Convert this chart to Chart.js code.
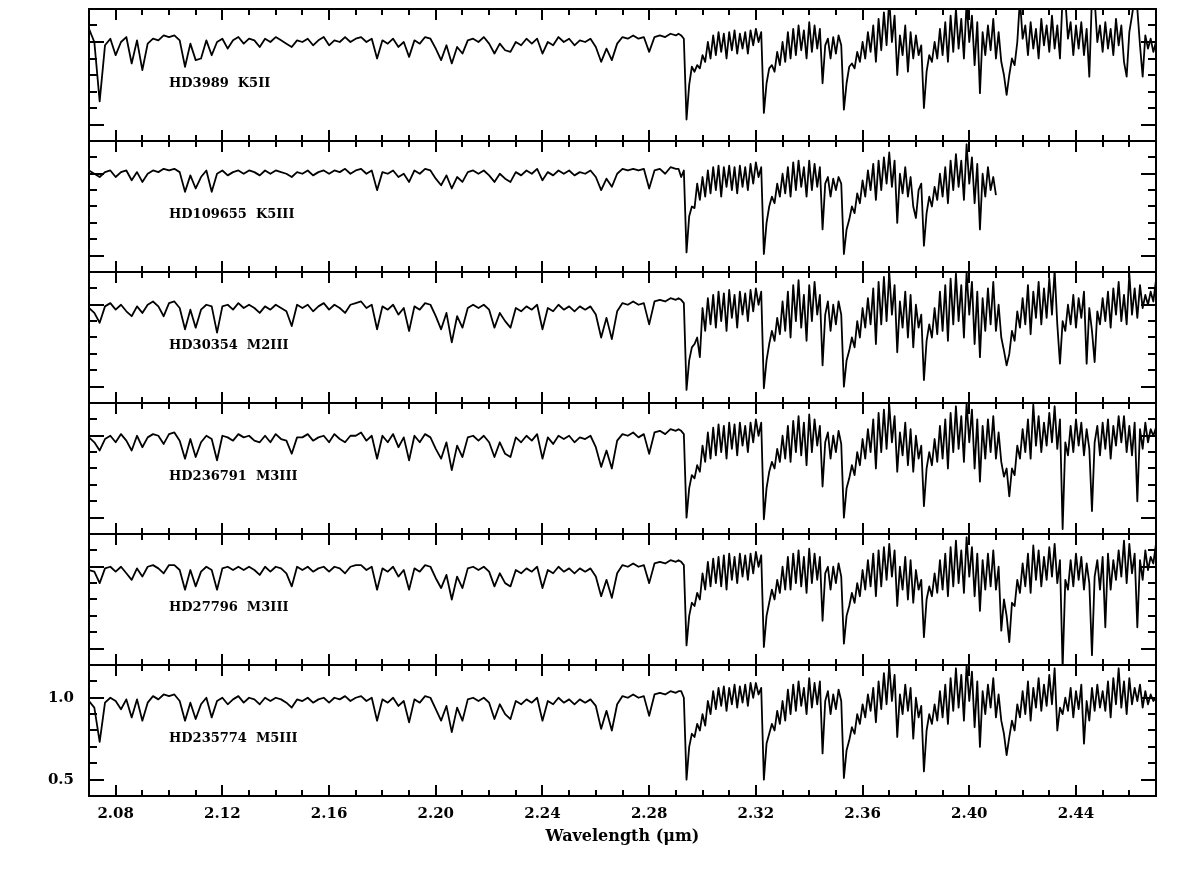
<!DOCTYPE html>
<html><head><meta charset="utf-8">
<script src="https://cdn.jsdelivr.net/npm/chart.js@4.4.1/dist/chart.umd.min.js"></script>
<style>
html,body{margin:0;padding:0;background:#fff;}
#wrap{position:relative;width:1179px;height:874px;overflow:hidden;background:#fff;}
#wrap canvas{position:absolute;left:0;}
</style>
</head><body>
<div id="wrap"></div>
<script>
// ---------------- DATA ----------------
const wavelength = [
 2.070,2.072,2.074,2.076,2.078,2.080,2.082,2.084,2.086,2.088,
 2.090,2.092,2.094,2.096,2.098,2.100,2.102,2.104,2.106,2.108,
 2.110,2.112,2.114,2.116,2.118,2.120,2.122,2.124,2.126,2.128,
 2.130,2.132,2.134,2.136,2.138,2.140,2.142,2.144,2.146,2.148,
 2.150,2.152,2.154,2.156,2.158,2.160,2.162,2.164,2.166,2.168,
 2.170,2.172,2.174,2.176,2.178,2.180,2.182,2.184,2.186,2.188,
 2.190,2.192,2.194,2.196,2.198,2.200,2.202,2.204,2.206,2.208,
 2.210,2.212,2.214,2.216,2.218,2.220,2.222,2.224,2.226,2.228,
 2.230,2.232,2.234,2.236,2.238,2.240,2.242,2.244,2.246,2.248,
 2.250,2.252,2.254,2.256,2.258,2.260,2.262,2.264,2.266,2.268,
 2.270,2.272,2.274,2.276,2.278,2.280,2.282,2.284,2.286,2.288,
 2.290,
 2.291,2.292,2.293,2.294,2.295,2.296,2.297,2.298,2.299,2.300,
 2.301,2.302,2.303,2.304,2.305,2.306,2.307,2.308,2.309,2.310,
 2.311,2.312,2.313,2.314,2.315,2.316,2.317,2.318,2.319,2.320,
 2.321,2.322,2.323,2.324,2.325,2.326,2.327,2.328,2.329,2.330,
 2.331,2.332,2.333,2.334,2.335,2.336,2.337,2.338,2.339,2.340,
 2.341,2.342,2.343,2.344,2.345,2.346,2.347,2.348,2.349,2.350,
 2.351,2.352,2.353,2.354,2.355,2.356,2.357,2.358,2.359,2.360,
 2.361,2.362,2.363,2.364,2.365,2.366,2.367,2.368,2.369,2.370,
 2.371,2.372,2.373,2.374,2.375,2.376,2.377,2.378,2.379,2.380,
 2.381,2.382,2.383,2.384,2.385,2.386,2.387,2.388,2.389,2.390,
 2.391,2.392,2.393,2.394,2.395,2.396,2.397,2.398,2.399,2.400,
 2.401,2.402,2.403,2.404,2.405,2.406,2.407,2.408,2.409,2.410,
 2.411,2.412,2.413,2.414,2.415,2.416,2.417,2.418,2.419,2.420,
 2.421,2.422,2.423,2.424,2.425,2.426,2.427,2.428,2.429,2.430,
 2.431,2.432,2.433,2.434,2.435,2.436,2.437,2.438,2.439,2.440,
 2.441,2.442,2.443,2.444,2.445,2.446,2.447,2.448,2.449,2.450,
 2.451,2.452,2.453,2.454,2.455,2.456,2.457,2.458,2.459,2.460,
 2.461,2.462,2.463,2.464,2.465,2.466,2.467,2.468,2.469,2.470
];

const starNames = ['HD3989  K5II','HD109655  K5III','HD30354  M2III','HD236791  M3III','HD27796  M3III','HD235774  M5III'];

const fluxHD3989 = [
 1.08,1.00,0.64,0.98,1.02,0.92,1.00,1.03,0.87,1.01,
 0.83,0.99,1.02,1.01,1.04,1.03,1.04,1.01,0.85,0.99,
 0.89,0.90,1.01,0.92,1.00,1.02,0.96,1.01,1.03,0.99,
 1.02,1.01,0.97,1.02,1.00,1.03,1.01,0.99,0.97,1.01,
 1.00,1.02,0.98,1.01,1.03,0.98,1.01,1.00,1.03,1.00,
 1.02,1.03,1.00,1.02,0.90,1.01,0.99,1.02,0.97,1.00,
 0.91,1.01,0.99,1.03,1.02,0.96,0.89,0.98,0.87,0.97,
 0.93,1.01,1.02,1.00,1.03,0.99,0.93,0.99,0.95,0.94,
 1.00,0.98,1.02,0.99,1.02,0.93,1.00,0.98,1.03,1.00,
 1.02,0.98,1.01,1.00,1.02,0.97,0.88,0.96,0.89,0.99,
 1.03,1.02,1.04,1.02,1.03,0.94,1.03,1.04,1.03,1.05,
 1.04,
 1.05,1.04,1.02,0.53,0.74,0.85,0.82,0.86,0.84,0.92,
 0.88,1.00,0.90,1.04,0.92,1.06,0.94,1.05,0.90,1.06,
 0.95,1.07,0.93,1.05,0.96,1.06,0.93,1.07,0.98,1.08,
 1.00,1.06,0.57,0.75,0.84,0.86,0.82,0.94,0.86,1.00,
 0.88,1.06,0.90,1.08,0.92,1.10,0.95,1.07,0.90,1.12,
 0.94,1.10,0.96,1.08,0.75,0.98,1.02,0.90,1.03,0.93,
 1.04,0.98,0.59,0.75,0.85,0.87,0.84,0.94,0.88,1.00,
 0.90,1.06,0.94,1.10,0.88,1.14,0.95,1.18,0.98,1.26,
 1.00,1.16,0.80,1.04,0.92,1.10,0.82,1.06,0.90,1.04,
 0.92,0.98,0.60,0.82,0.92,0.88,1.00,0.90,1.08,0.92,
 1.12,0.88,1.16,0.94,1.20,0.96,1.14,0.90,1.24,1.00,
 1.16,0.86,1.12,0.69,1.06,0.92,1.10,0.95,1.14,0.90,
 1.06,0.88,0.80,0.68,0.80,0.90,0.86,1.00,1.26,1.02,
 1.10,0.92,1.12,0.96,1.08,0.90,1.14,0.98,1.10,0.94,
 1.16,0.96,1.10,0.90,1.28,1.26,1.02,1.12,0.92,1.10,
 0.96,1.12,0.92,1.08,0.79,1.28,1.26,1.00,1.10,0.94,
 1.12,0.96,1.08,0.92,1.14,0.98,1.10,0.88,0.79,1.06,
 1.16,1.27,1.20,0.98,0.79,1.04,0.96,1.02,0.94,1.00
];

const fluxHD109655 = [
 1.02,1.00,0.98,1.01,1.02,0.98,1.01,1.02,0.96,1.01,
 0.95,1.00,1.02,1.01,1.03,1.02,1.03,1.01,0.89,0.99,
 0.91,0.98,1.02,0.89,1.00,1.02,0.99,1.01,1.02,1.00,
 1.02,1.01,0.99,1.02,1.00,1.02,1.01,1.00,0.98,1.01,
 1.00,1.02,0.99,1.01,1.02,1.00,1.02,1.01,1.03,1.00,
 1.02,1.03,1.00,1.02,0.90,1.01,1.00,1.02,0.98,1.00,
 0.95,1.02,1.00,1.03,1.02,0.97,0.93,0.99,0.91,0.98,
 0.95,1.01,1.02,1.00,1.02,0.99,0.95,1.00,0.97,0.95,
 1.01,0.99,1.02,1.00,1.03,0.96,1.01,0.99,1.02,1.00,
 1.02,0.99,1.01,1.00,1.02,0.98,0.90,0.97,0.92,1.00,
 1.03,1.02,1.03,1.02,1.03,0.91,1.02,1.03,1.00,1.04,
 1.03,
 1.03,0.98,1.02,0.52,0.74,0.80,0.79,0.94,0.84,0.98,
 0.86,1.02,0.88,1.04,0.90,1.05,0.86,1.04,0.92,1.05,
 0.90,1.04,0.88,1.05,0.92,1.04,0.90,1.06,0.94,1.07,
 0.98,1.04,0.51,0.70,0.80,0.86,0.82,0.94,0.86,1.00,
 0.88,1.04,0.86,1.07,0.90,1.08,0.92,1.04,0.86,1.08,
 0.90,1.06,0.92,1.04,0.66,0.94,0.98,0.86,0.97,0.90,
 0.98,0.94,0.51,0.66,0.72,0.80,0.76,0.88,0.82,0.96,
 0.86,1.02,0.90,1.06,0.84,1.08,0.90,1.10,0.94,1.13,
 0.92,1.08,0.70,1.00,0.88,1.04,0.86,0.98,0.80,0.73,
 0.90,0.94,0.56,0.76,0.86,0.80,0.92,0.84,1.00,0.86,
 1.04,0.82,1.08,0.90,1.12,0.92,1.08,0.84,1.18,0.94,
 1.10,0.82,1.06,0.66,1.00,0.86,1.04,0.90,0.98,0.87
];

const fluxHD30354 = [
 0.98,0.95,0.89,0.99,1.01,0.97,1.00,0.96,0.93,0.99,
 0.95,1.00,1.02,0.99,0.93,1.01,1.02,0.98,0.85,0.97,
 0.86,0.97,1.00,0.99,0.83,0.99,1.00,0.97,1.01,0.98,
 1.00,0.98,0.95,0.99,0.97,1.00,0.98,0.96,0.87,1.00,
 0.98,1.00,0.96,0.99,1.01,0.97,1.00,0.98,0.95,1.00,
 1.01,1.02,0.98,1.00,0.85,0.99,0.97,1.00,0.94,0.98,
 0.84,0.99,0.97,1.01,1.00,0.93,0.85,0.95,0.77,0.93,
 0.86,0.98,1.00,0.98,1.00,0.97,0.86,0.95,0.90,0.86,
 0.98,0.96,0.99,0.97,1.00,0.85,0.98,0.96,1.00,0.97,
 0.99,0.96,0.99,0.97,0.99,0.94,0.80,0.92,0.79,0.96,
 1.01,1.00,1.02,1.00,1.01,0.88,1.02,1.03,1.02,1.04,
 1.03,
 1.04,1.03,1.01,0.48,0.66,0.74,0.76,0.80,0.68,0.98,
 0.84,1.04,0.88,1.06,0.86,1.08,0.90,1.07,0.84,1.09,
 0.92,1.06,0.86,1.08,0.94,1.07,0.90,1.09,0.96,1.10,
 1.00,1.08,0.49,0.66,0.76,0.84,0.78,0.92,0.82,1.02,
 0.84,1.08,0.80,1.12,0.90,1.15,0.86,1.06,0.78,1.12,
 0.90,1.14,0.94,1.06,0.63,0.94,1.02,0.84,1.00,0.88,
 1.02,0.94,0.50,0.66,0.72,0.80,0.74,0.90,0.80,0.98,
 0.86,1.04,0.88,1.10,0.76,1.14,0.88,1.17,0.90,1.20,
 0.94,1.12,0.71,1.02,0.86,1.08,0.80,1.06,0.74,1.00,
 0.86,0.94,0.54,0.78,0.88,0.80,0.98,0.82,1.08,0.84,
 1.12,0.78,1.16,0.88,1.19,0.90,1.12,0.80,1.20,0.94,
 1.14,0.76,1.08,0.68,1.04,0.84,1.10,0.88,1.14,0.84,
 1.00,0.80,0.72,0.63,0.70,0.84,0.78,0.96,0.86,1.04,
 0.88,1.12,0.82,1.08,0.92,1.14,0.88,1.10,0.92,1.16,
 0.94,1.21,0.88,0.64,0.90,0.84,1.00,0.88,1.06,0.86,
 1.04,0.92,1.08,0.64,0.98,0.84,0.65,0.96,0.88,1.04,
 0.90,1.08,0.86,1.10,0.94,1.14,0.90,1.06,0.88,1.19,
 0.94,1.10,0.92,1.12,0.98,1.06,1.00,1.08,1.02,1.15
];

const fluxHD236791 = [
 0.99,0.96,0.91,0.98,1.00,0.96,1.01,0.97,0.91,1.00,
 0.93,0.99,1.01,1.00,0.95,1.01,1.02,0.97,0.86,0.98,
 0.87,0.96,1.00,0.98,0.85,1.00,0.99,0.97,1.01,0.99,
 1.00,0.97,0.96,1.00,0.96,1.01,0.98,0.97,0.89,0.99,
 0.99,1.01,0.97,0.99,1.00,0.96,1.01,0.98,0.96,1.00,
 1.00,1.02,0.97,1.00,0.86,1.00,0.96,1.01,0.93,0.99,
 0.85,1.00,0.96,1.01,0.99,0.92,0.86,0.96,0.79,0.94,
 0.87,0.99,1.00,0.97,1.00,0.96,0.87,0.96,0.89,0.87,
 0.99,0.96,1.00,0.97,1.01,0.86,0.99,0.95,1.00,0.98,
 1.00,0.96,0.99,0.98,1.00,0.93,0.81,0.91,0.80,0.97,
 1.01,1.00,1.02,0.99,1.01,0.89,1.02,1.03,1.01,1.04,
 1.03,
 1.04,1.03,1.01,0.50,0.68,0.76,0.74,0.82,0.78,0.94,
 0.84,1.02,0.86,1.05,0.88,1.07,0.90,1.06,0.86,1.08,
 0.92,1.07,0.88,1.08,0.94,1.06,0.90,1.08,0.96,1.10,
 1.00,1.08,0.49,0.68,0.78,0.84,0.80,0.92,0.84,1.00,
 0.86,1.06,0.84,1.09,0.90,1.12,0.88,1.08,0.82,1.13,
 0.90,1.10,0.94,1.06,0.69,0.96,1.02,0.86,1.00,0.90,
 1.03,0.95,0.50,0.68,0.74,0.82,0.76,0.90,0.82,0.98,
 0.86,1.04,0.90,1.10,0.80,1.14,0.90,1.16,0.92,1.19,
 0.96,1.12,0.78,1.02,0.88,1.08,0.82,1.04,0.78,1.00,
 0.86,0.94,0.57,0.80,0.90,0.82,0.98,0.84,1.06,0.86,
 1.10,0.80,1.14,0.90,1.18,0.92,1.12,0.84,1.20,0.96,
 1.16,0.80,1.10,0.72,1.06,0.86,1.10,0.90,1.12,0.86,
 1.02,0.84,0.75,0.80,0.63,0.80,0.76,0.94,0.86,1.04,
 0.90,1.10,0.86,1.19,0.94,1.12,0.90,1.08,0.94,1.14,
 0.96,1.18,0.92,1.10,0.43,0.96,0.88,1.06,0.90,1.10,
 0.94,1.08,0.88,1.04,0.92,0.54,0.96,1.06,0.88,1.08,
 0.92,1.10,0.86,1.06,0.94,1.12,0.96,1.12,0.90,1.06,
 0.88,1.08,0.60,1.04,0.92,1.08,0.96,1.04,1.00,1.05
];

const fluxHD27796 = [
 0.98,0.97,0.90,0.99,1.00,0.97,1.00,0.96,0.92,0.99,
 0.94,1.00,1.01,0.99,0.96,1.01,1.01,0.98,0.86,0.98,
 0.88,0.97,1.00,0.98,0.86,0.99,1.00,0.98,1.00,0.98,
 1.00,0.98,0.95,1.00,0.97,1.00,0.99,0.96,0.88,1.00,
 0.98,1.00,0.97,0.99,1.00,0.97,1.00,0.99,0.96,1.00,
 1.01,1.01,0.98,1.00,0.86,0.99,0.97,1.00,0.94,0.98,
 0.86,0.99,0.97,1.01,1.00,0.93,0.87,0.95,0.80,0.94,
 0.87,0.99,1.00,0.98,1.00,0.97,0.88,0.96,0.90,0.88,
 0.98,0.96,0.99,0.97,1.00,0.87,0.98,0.96,1.00,0.97,
 0.99,0.96,0.99,0.97,0.99,0.94,0.82,0.92,0.81,0.96,
 1.01,1.00,1.02,1.00,1.01,0.90,1.02,1.03,1.02,1.04,
 1.03,
 1.04,1.03,1.01,0.52,0.70,0.78,0.76,0.84,0.80,0.96,
 0.86,1.03,0.88,1.05,0.90,1.06,0.88,1.07,0.86,1.08,
 0.92,1.06,0.90,1.08,0.94,1.07,0.92,1.08,0.96,1.09,
 1.00,1.07,0.51,0.70,0.78,0.86,0.80,0.92,0.84,1.00,
 0.86,1.06,0.86,1.08,0.90,1.10,0.88,1.06,0.84,1.11,
 0.90,1.08,0.92,1.06,0.67,0.96,1.00,0.86,1.00,0.90,
 1.02,0.94,0.53,0.70,0.76,0.84,0.78,0.90,0.82,0.98,
 0.86,1.04,0.88,1.08,0.82,1.10,0.88,1.12,0.92,1.14,
 0.94,1.10,0.76,1.00,0.86,1.06,0.80,1.04,0.78,0.98,
 0.86,0.92,0.57,0.80,0.88,0.82,0.96,0.84,1.04,0.86,
 1.08,0.82,1.12,0.88,1.16,0.90,1.10,0.84,1.18,0.94,
 1.12,0.82,1.08,0.73,1.04,0.86,1.08,0.88,1.10,0.86,
 1.00,0.61,0.80,0.70,0.54,0.78,0.76,0.92,0.84,1.02,
 0.88,1.08,0.84,1.13,0.92,1.10,0.88,1.06,0.92,1.12,
 0.94,1.14,0.90,1.04,0.38,0.92,0.86,1.04,0.88,1.08,
 0.92,1.06,0.86,1.02,0.90,0.46,0.94,1.04,0.86,1.06,
 0.63,1.08,0.86,1.04,0.92,1.10,0.94,1.16,0.90,1.14,
 0.96,1.08,0.63,1.04,0.92,1.10,0.98,1.06,1.02,1.14
];

const fluxHD235774 = [
 0.98,0.94,0.73,0.97,1.00,0.98,0.93,0.99,0.88,0.99,
 0.86,0.97,1.01,0.99,1.02,1.01,1.02,0.98,0.86,0.97,
 0.87,0.96,1.00,0.88,0.98,1.00,0.96,0.99,1.01,0.97,
 1.00,0.99,0.96,1.00,0.98,1.00,0.99,0.97,0.94,0.99,
 0.98,1.00,0.97,0.99,1.00,0.97,1.00,0.99,1.01,0.98,
 1.00,1.01,0.98,1.00,0.86,0.99,0.97,1.00,0.95,0.98,
 0.85,0.99,0.97,1.01,1.00,0.93,0.86,0.95,0.79,0.94,
 0.86,0.99,1.00,0.98,1.00,0.97,0.87,0.96,0.90,0.87,
 0.98,0.96,0.99,0.97,1.00,0.86,0.98,0.96,1.00,0.97,
 0.99,0.96,0.99,0.97,0.99,0.95,0.81,0.92,0.80,0.96,
 1.01,1.00,1.02,1.00,1.01,0.89,1.02,1.03,1.02,1.04,
 1.03,
 1.04,1.04,1.00,0.50,0.70,0.78,0.76,0.84,0.80,0.90,
 0.83,0.98,0.90,1.04,0.93,1.06,0.95,1.07,0.92,1.06,
 0.96,1.08,0.94,1.07,0.97,1.08,0.95,1.09,1.00,1.09,
 1.02,1.06,0.50,0.72,0.78,0.84,0.80,0.92,0.84,0.98,
 0.86,1.05,0.90,1.08,0.92,1.10,0.95,1.06,0.90,1.12,
 0.94,1.09,0.96,1.10,0.66,0.98,1.04,0.90,1.02,0.93,
 1.05,0.98,0.51,0.68,0.74,0.82,0.78,0.90,0.84,0.96,
 0.88,1.02,0.92,1.06,0.85,1.10,0.93,1.15,0.96,1.20,
 0.98,1.14,0.76,1.02,0.90,1.08,0.92,1.06,0.75,1.00,
 0.88,0.95,0.55,0.80,0.90,0.84,0.96,0.86,1.04,0.88,
 1.08,0.84,1.12,0.92,1.18,0.94,1.14,0.86,1.20,0.98,
 1.16,0.82,1.10,0.70,1.04,0.90,1.08,0.94,1.12,0.88,
 1.02,0.86,0.78,0.65,0.76,0.86,0.80,0.96,0.88,1.04,
 0.90,1.10,0.86,1.06,0.94,1.12,0.92,1.08,0.95,1.14,
 0.96,1.18,0.80,0.94,0.90,1.00,0.92,1.06,0.88,1.04,
 0.93,1.08,0.72,0.98,0.86,1.06,0.92,1.08,0.94,1.04,
 0.92,1.10,0.88,1.12,0.96,1.18,0.94,1.10,0.90,1.12,
 0.96,1.06,0.98,1.08,0.94,1.04,0.96,1.02,0.98,1.00
];

const seriesFlux = [fluxHD3989, fluxHD109655, fluxHD30354, fluxHD236791, fluxHD27796, fluxHD235774];

// axis ticks
const xMajorTicks = [2.08,2.12,2.16,2.20,2.24,2.28,2.32,2.36,2.40,2.44];
const xMinorTicks = [2.08,2.09,2.10,2.11,2.12,2.13,2.14,2.15,2.16,2.17,2.18,2.19,2.20,2.21,2.22,2.23,2.24,2.25,2.26,2.27,2.28,2.29,2.30,2.31,2.32,2.33,2.34,2.35,2.36,2.37,2.38,2.39,2.40,2.41,2.42,2.43,2.44,2.45,2.46];
const yMajorTicks = [0.5,1.0];
const yMinorTicks = [0.6,0.7,0.8,0.9,1.1];
const xRange = [2.07, 2.47];
const yRange = [0.4, 1.2];
const xTitle = 'Wavelength (\u03bcm)';

// ---------------- LAYOUT ----------------
const PAGE_W = 1179, PAGE_H = 874;
const panelTops = [9, 141, 272, 403, 534, 665];
const panelBottom = 796;
const PLOT_LEFT = 89, PLOT_RIGHT = 1156, EXTRA = 12;
const TICK_FONT = {family: 'DejaVu Serif', size: 15, weight: 'bold'};

const framePlugin = {
  id: 'frame',
  afterDatasetsDraw(chart, args, opts) {
    const {ctx, chartArea: a, scales: {x, y}} = chart;
    ctx.save();
    ctx.strokeStyle = '#000';
    ctx.lineWidth = 2;
    ctx.lineCap = 'butt';
    ctx.beginPath();
    xMinorTicks.forEach(v => {
      const px = Math.round(x.getPixelForValue(v));
      const len = xMajorTicks.some(m => Math.abs(m - v) < 1e-6) ? 11 : 6;
      ctx.moveTo(px, a.top); ctx.lineTo(px, a.top + len);
      ctx.moveTo(px, a.bottom); ctx.lineTo(px, a.bottom - len);
    });
    yMinorTicks.concat(yMajorTicks).forEach(v => {
      const py = Math.round(y.getPixelForValue(v));
      const len = yMajorTicks.includes(v) ? 15 : 8;
      ctx.moveTo(a.left, py); ctx.lineTo(a.left + len, py);
      ctx.moveTo(a.right, py); ctx.lineTo(a.right - len, py);
    });
    ctx.stroke();
    ctx.strokeRect(a.left, a.top, a.right - a.left, a.bottom - a.top);
    ctx.fillStyle = '#000';
    ctx.font = 'bold 13px "DejaVu Serif"';
    ctx.textBaseline = 'middle';
    ctx.textAlign = 'left';
    ctx.fillText(opts.label, x.getPixelForValue(2.10), y.getPixelForValue(0.75));
    ctx.restore();
  }
};

const wrap = document.getElementById('wrap');
seriesFlux.forEach((flux, i) => {
  const last = i === seriesFlux.length - 1;
  const top = panelTops[i] - EXTRA;
  const bottom = last ? PAGE_H : panelTops[i + 1] + EXTRA;
  const h = bottom - top;
  const cv = document.createElement('canvas');
  cv.width = PAGE_W; cv.height = h;
  cv.style.top = top + 'px';
  cv.style.width = PAGE_W + 'px'; cv.style.height = h + 'px';
  wrap.appendChild(cv);
  const pts = flux.map((f, k) => ({x: wavelength[k], y: f}));
  const xScale = {
    type: 'linear', min: xRange[0], max: xRange[1], display: last,
    grid: {display: false, drawTicks: false}, border: {display: false},
    ticks: {autoSkip: false, maxRotation: 0, padding: 9, color: '#000', font: TICK_FONT,
            callback: v => Number(v).toFixed(2)},
    title: {display: last, text: xTitle, color: '#000', font: {family: 'DejaVu Serif', size: 16, weight: 'bold'},
            padding: {top: 0, bottom: 28}}
  };
  const yScale = {
    type: 'linear', min: yRange[0], max: yRange[1], display: last,
    grid: {display: false, drawTicks: false}, border: {display: false},
    ticks: {autoSkip: false, padding: 15, color: '#000', font: TICK_FONT,
            callback: v => Number(v).toFixed(1)}
  };
  if (last) {
    xScale.afterBuildTicks = s => { s.ticks = xMajorTicks.map(v => ({value: v})); };
    xScale.afterFit = s => { s.height = PAGE_H - panelBottom; s.paddingLeft = 0; s.paddingRight = 0; };
    yScale.afterBuildTicks = s => { s.ticks = yMajorTicks.map(v => ({value: v})); };
    yScale.afterFit = s => { s.width = PLOT_LEFT; s.paddingTop = 0; s.paddingBottom = 0; };
  }
  new Chart(cv.getContext('2d'), {
    type: 'line',
    data: {datasets: [{data: pts, borderColor: '#000', borderWidth: 1.8, pointRadius: 0, tension: 0, fill: false, clip: 0, borderJoinStyle: 'round'}]},
    options: {
      responsive: false, animation: false, devicePixelRatio: 1,
      events: [],
      layout: {padding: last ? {left: 0, right: PAGE_W - PLOT_RIGHT, top: EXTRA, bottom: 0}
                             : {left: PLOT_LEFT, right: PAGE_W - PLOT_RIGHT, top: EXTRA, bottom: EXTRA}},
      plugins: {legend: {display: false}, tooltip: {enabled: false}, frame: {label: starNames[i]}},
      scales: {x: xScale, y: yScale}
    },
    plugins: [framePlugin]
  });
});
</script>
</body></html>
